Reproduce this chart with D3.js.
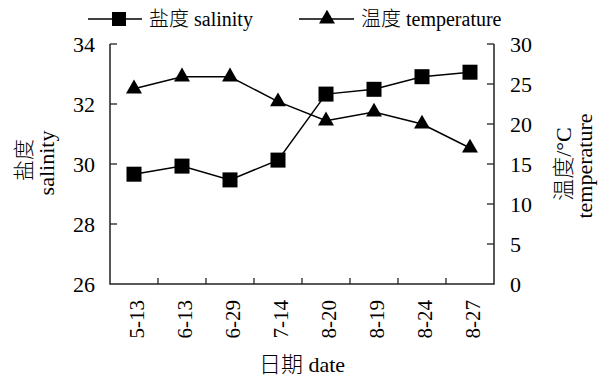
<!DOCTYPE html>
<html><head><meta charset="utf-8">
<script src="https://cdn.jsdelivr.net/npm/d3@7/dist/d3.min.js"></script>
<style>body{margin:0;background:#fff}svg text{font-family:"Liberation Serif","Noto Sans CJK SC",serif;fill:#000}.cjk{font-family:"Noto Sans CJK SC",sans-serif;font-weight:300}</style>
</head><body><svg id="c" width="601" height="380"></svg>
<script>
const dates = ["5-13","6-13","6-29","7-14","8-20","8-19","8-24","8-27"];
const salinity = [29.66,29.93,29.47,30.13,32.33,32.49,32.91,33.06];
const temperature = [24.4,25.9,25.9,22.8,20.4,21.5,20.0,17.0];
const salTicks = [26,28,30,32,34];
const tempTicks = [0,5,10,15,20,25,30];

const svg = d3.select("#c");
const L=110,R=494,T=44,B=284;
const x = d3.scaleBand().domain(dates).range([L,R]);
const yS = d3.scaleLinear().domain([26,34]).range([B,T]);
const yT = d3.scaleLinear().domain([0,30]).range([B,T]);
const axCol="#222";

function mixed(sel, cjk, latin){
  sel.append("tspan").attr("class","cjk").text(cjk);
  if(latin) sel.append("tspan").text(latin);
  return sel;
}

svg.append("path").attr("d",`M${L},${T}V${B}H${R}V${T}`).attr("fill","none").attr("stroke",axCol).attr("stroke-width",1.5);
salTicks.forEach(v=>{
  if(v!==26) svg.append("line").attr("x1",L).attr("x2",L+7).attr("y1",yS(v)).attr("y2",yS(v)).attr("stroke",axCol).attr("stroke-width",1.3);
  svg.append("text").attr("x",L-15).attr("y",yS(v)).attr("dy","0.35em").attr("text-anchor","end").attr("font-size",22).text(v);
});
tempTicks.forEach(v=>{
  if(v!==0) svg.append("line").attr("x1",R).attr("x2",R-7).attr("y1",yT(v)).attr("y2",yT(v)).attr("stroke",axCol).attr("stroke-width",1.3);
  svg.append("text").attr("x",R+16).attr("y",yT(v)).attr("dy","0.35em").attr("text-anchor","start").attr("font-size",22).text(v);
});
dates.slice(1).forEach(d=>{
  svg.append("line").attr("x1",x(d)).attr("x2",x(d)).attr("y1",B).attr("y2",B-6).attr("stroke",axCol).attr("stroke-width",1.3);
});
dates.forEach(d=>{
  const cx=x(d)+x.bandwidth()/2+3;
  svg.append("text").attr("transform",`translate(${cx},${B+16}) rotate(-90)`).attr("dy","0.35em").attr("text-anchor","end").attr("font-size",21).text(d);
});
mixed(svg.append("text").attr("x",(L+R)/2).attr("y",372).attr("text-anchor","middle").attr("font-size",22),"日期"," date");
svg.append("text").attr("class","cjk").attr("transform","translate(24,160) rotate(-90)").attr("dy","0.35em").attr("text-anchor","middle").attr("font-size",21).text("盐度");
svg.append("text").attr("transform","translate(46,163) rotate(-90)").attr("dy","0.35em").attr("text-anchor","middle").attr("font-size",22).text("salinity");
mixed(svg.append("text").attr("transform","translate(563,164) rotate(-90)").attr("dy","0.35em").attr("text-anchor","middle").attr("font-size",22),"温度","/°C");
svg.append("text").attr("transform","translate(584,166) rotate(-90)").attr("dy","0.35em").attr("text-anchor","middle").attr("font-size",22).text("temperature");

const cx = d=>x(d)+x.bandwidth()/2;
svg.append("path").datum(dates.map((d,i)=>[cx(d),yT(temperature[i])]))
  .attr("d",d3.line()).attr("fill","none").attr("stroke","#000").attr("stroke-width",1.5);
svg.append("path").datum(dates.map((d,i)=>[cx(d),yS(salinity[i])]))
  .attr("d",d3.line()).attr("fill","none").attr("stroke","#000").attr("stroke-width",1.5);
const tri = d3.symbol().type(d3.symbolTriangle).size(110);
dates.forEach((d,i)=>{
  svg.append("path").attr("d",tri()).attr("transform",`translate(${cx(d)},${yT(temperature[i])})`).attr("fill","#000");
  svg.append("rect").attr("x",cx(d)-7.5).attr("y",yS(salinity[i])-7.5).attr("width",15).attr("height",15).attr("fill","#000");
});
const ly=19;
svg.append("line").attr("x1",88).attr("x2",142).attr("y1",ly).attr("y2",ly).attr("stroke","#000").attr("stroke-width",1.5);
svg.append("rect").attr("x",112).attr("y",ly-7).attr("width",14).attr("height",14).attr("fill","#000");
mixed(svg.append("text").attr("x",149).attr("y",ly).attr("dy","0.35em").attr("font-size",20),"盐度"," salinity");
svg.append("line").attr("x1",299).attr("x2",354).attr("y1",ly).attr("y2",ly).attr("stroke","#000").attr("stroke-width",1.5);
svg.append("path").attr("d",tri()).attr("transform",`translate(327,${ly})`).attr("fill","#000");
mixed(svg.append("text").attr("x",361).attr("y",ly).attr("dy","0.35em").attr("font-size",20),"温度"," temperature");
</script></body></html>
